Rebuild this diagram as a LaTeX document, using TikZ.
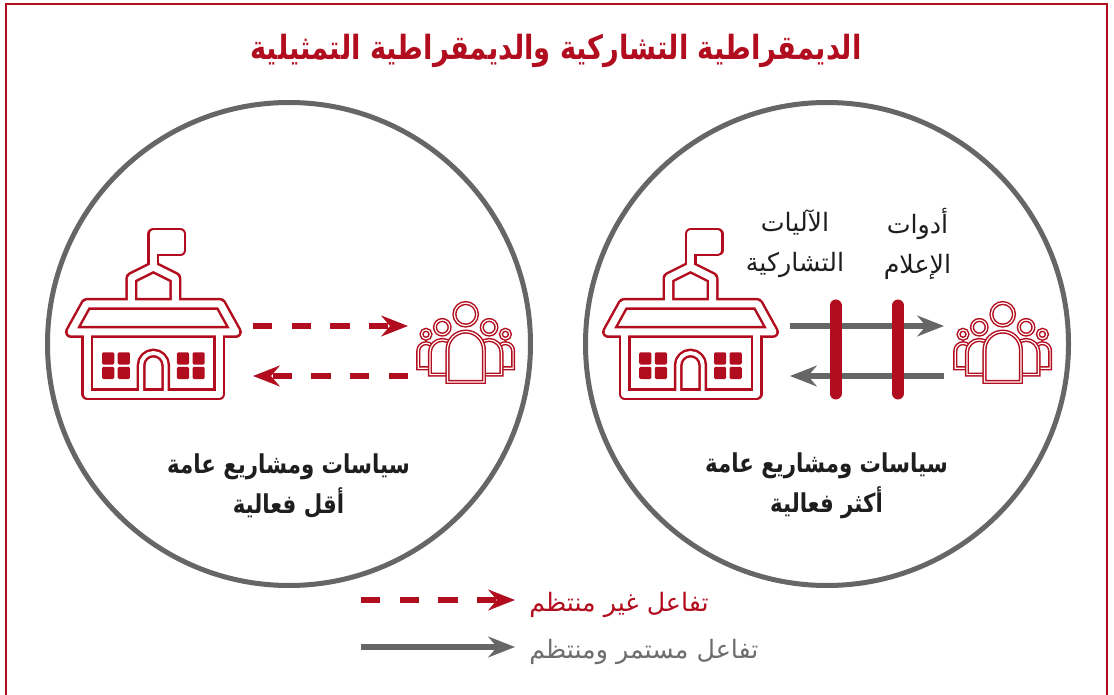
\documentclass[tikz,border=0pt]{standalone}
\usepackage{fontspec}
\setmainfont{DejaVu Sans}
\newfontfamily\arabicfont[Script=Arabic]{DejaVu Sans}
\TeXXeTstate=1
\usepackage{tikz}
\usetikzlibrary{arrows.meta}

\definecolor{dRed}{RGB}{178,13,30}
\definecolor{dGray}{RGB}{102,102,102}
\definecolor{lGray}{RGB}{110,110,112}
\definecolor{dInk}{RGB}{30,30,30}

\tikzset{
  frame/.style={draw=dRed, line width=1.9pt},
  ring/.style={draw=dGray, line width=3.75pt},
  irregular/.style={draw=dRed, line width=4.8pt, dash pattern=on 14.6pt off 14.4pt,
    -{Stealth[length=20pt, width=15.5pt, inset=6.5pt]}},
  steady/.style={draw=dGray, line width=4.3pt,
    -{Stealth[length=20pt, width=15.5pt, inset=6.5pt]}},
  gate/.style={draw=dRed, line width=9pt, line cap=round},
  person/.style={fill=white, draw=dRed, line width=1.1pt, double=white, double distance=0.9pt},
  titletext/.style={dRed, inner sep=0.75pt, font=\arabicfont\bfseries\fontsize{25}{30}\selectfont},
  labeltext/.style={dInk, inner sep=0.75pt, align=center, font=\arabicfont\fontsize{19}{30}\selectfont},
  resulttext/.style={dInk, inner sep=0.75pt, align=center, font=\arabicfont\bfseries\fontsize{19.5}{30}\selectfont},
  legendtext/.style={inner sep=0.75pt, anchor=west, font=\arabicfont\fontsize{19}{24}\selectfont},
  % school building, origin at the top of the roof
  school/.pic={
    \foreach \c/\w/\d in {dRed/9pt/6.6pt, white/5.25pt/2.9pt}{
      \begin{scope}[draw=\c, fill=\c, line width=\w, line join=round]
        \draw (-82.5,34) -- (-67,6) -- (67,6) -- (82.5,34) -- cycle;
        \draw (-66,34) -- (-66,96) -- (66,96) -- (66,34);
        \draw (-22,6) -- (-22,-20) -- (0,-31) -- (22,-20) -- (22,6);
        \draw (0,-31) -- (0,-64);
        \filldraw (0,-64) rectangle (27,-47.5);
        \draw[line width=\d] (-12.3,96) -- (-12.3,67.3) arc[start angle=180, end angle=360, radius=12.3] -- (12.3,96);
      \end{scope}
    }
    \foreach \wx in {-51.3,-35.7,23.5,39.1}
      \foreach \wy in {54.3,68.8}
        \fill[dRed, rounded corners=1pt] (\wx,\wy) rectangle ++(12.2,12.2);
  },
  % group of people, origin at the middle head
  crowd/.pic={
    \foreach \s in {-1,1}{
      \begin{scope}[xscale=\s]
        \draw[person] (-47.4,54) -- (-47.4,36.6) arc[start angle=180, end angle=360, radius=7.7] -- (-32,54) -- cycle;
        \draw[person] (-39.7,20) circle[radius=4.5];
      \end{scope}
    }
    \foreach \s in {-1,1}{
      \begin{scope}[xscale=\s]
        \draw[person] (-35.8,60.3) -- (-35.8,38) arc[start angle=180, end angle=360, radius=12.4] -- (-11,60.3) -- cycle;
        \draw[person] (-23.4,13) circle[radius=7.3];
      \end{scope}
    }
    \draw[person] (-18.2,67.6) -- (-18.2,35.5) arc[start angle=180, end angle=360, radius=18.2] -- (18.2,67.6) -- cycle;
    \draw[person] (0,0) circle[radius=11.3];
  }
}

\begin{document}
\begin{tikzpicture}[x=0.75pt,y=0.75pt,yscale=-1,xscale=1]
\useasboundingbox (0,0) rectangle (1114,695);

%Frame
\draw[frame] (6,700) -- (6,4) -- (1107,4) -- (1107,700);

% Text Node
\draw (556,51) node (title) [titletext] {\scalebox{0.82}[1]{\beginR الديمقراطية التشاركية والديمقراطية التمثيلية\endR}};

%Shape: Circle
\draw[ring] (289,344) circle[radius=241.5];
%Shape: Circle
\draw[ring] (827,344) circle[radius=241.5];

%Icons
\coordinate (schoolL) at (153.4,298);
\coordinate (schoolR) at (690.5,298);
\coordinate (crowdL) at (465.7,314.3);
\coordinate (crowdR) at (1002.7,314.3);
\pic[transform shape] at (schoolL) {school};
\pic[transform shape] at (schoolR) {school};
\pic[transform shape] at (crowdL) {crowd};
\pic[transform shape] at (crowdR) {crowd};

%Arrows in the left circle
\coordinate (outL) at (253,326);
\coordinate (inL) at (408,326);
\coordinate (backL) at (408,376);
\coordinate (retL) at (253,376);
\draw[irregular] (outL) -- (inL);
\draw[irregular] (backL) -- (retL);

%Arrows in the right circle
\coordinate (outR) at (790,326);
\coordinate (inR) at (944,326);
\coordinate (backR) at (944,376);
\coordinate (retR) at (790,376);
\draw[steady] (outR) -- (inR);
\draw[steady] (backR) -- (retR);

%Bars
\coordinate (bar1t) at (835.5,305.5);
\coordinate (bar1b) at (835.5,393.5);
\coordinate (bar2t) at (898,305.5);
\coordinate (bar2b) at (898,393.5);
\draw[gate] (bar1t) -- (bar1b);
\draw[gate] (bar2t) -- (bar2b);

% Text Node
\draw (795,244) node (mech) [labeltext] {\beginR الآليات\endR\\\beginR التشاركية\endR};
% Text Node
\draw (917.5,244) node (media) [labeltext] {\beginR أدوات\endR\\\beginR الإعلام\endR};
% Text Node
\draw (288.5,486) node (lessL) [resulttext] {\scalebox{0.82}[1]{\beginR سياسات ومشاريع عامة\endR}\\\scalebox{0.82}[1]{\beginR أقل فعالية\endR}};
% Text Node
\draw (826.5,486) node (moreR) [resulttext] {\scalebox{0.82}[1]{\beginR سياسات ومشاريع عامة\endR}\\\scalebox{0.82}[1]{\beginR أكثر فعالية\endR}};

%Legend
\coordinate (key1a) at (361,600);
\coordinate (key1b) at (515,600);
\coordinate (key2a) at (361,647);
\coordinate (key2b) at (515,647);
\draw[irregular] (key1a) -- (key1b);
\draw[steady] (key2a) -- (key2b);
% Text Node
\draw (528,605) node (key1t) [legendtext, dRed] {\beginR تفاعل غير منتظم\endR};
% Text Node
\draw (528,652) node (key2t) [legendtext, lGray] {\beginR تفاعل مستمر ومنتظم\endR};
\end{tikzpicture}
\end{document}
